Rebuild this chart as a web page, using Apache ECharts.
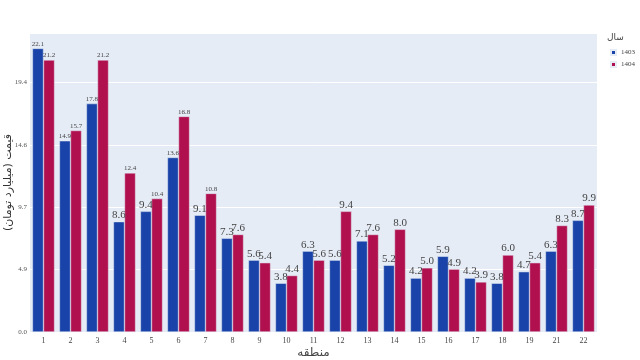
<!DOCTYPE html>
<html><head><meta charset="utf-8">
<script src="https://cdn.jsdelivr.net/npm/echarts@6/dist/echarts.min.js"></script>
<style>html,body{margin:0;padding:0;background:#fff}#c{width:640px;height:360px}</style>
</head><body><div id="c"></div>
<script>
const categories = ['1','2','3','4','5','6','7','8','9','10','11','12','13','14','15','16','17','18','19','21','22'];
const values1403 = [22.1,14.9,17.8,8.6,9.4,13.6,9.1,7.3,5.6,3.8,6.3,5.6,7.1,5.2,4.2,5.9,4.2,3.8,4.7,6.3,8.7];
const values1404 = [21.2,15.7,21.2,12.4,10.4,16.8,10.8,7.6,5.4,4.4,5.6,9.4,7.6,8.0,5.0,4.9,3.9,6.0,5.4,8.3,9.9];
const seriesNames = ['1403','1404'];
const yTickStep = 4.86;
const legendTitle = 'سال';
const xTitle = 'منطقه';
const yTitle = 'قیمت (میلیارد تومان)';

const serif = "'Liberation Serif','DejaVu Serif',serif";
const arabic = "'DejaVu Sans','Noto Sans',sans-serif";
function labelCfg(){
  return {
    show:true, position:'top', distance:1,
    formatter: p => (p.value >= 10 ? '{s|' : '{b|') + p.value.toFixed(1) + '}',
    rich:{
      s:{fontSize:7, fontFamily:serif, color:'#444'},
      b:{fontSize:11, fontFamily:serif, color:'#444'}
    }
  };
}
const chart = echarts.init(document.getElementById('c'));
chart.setOption({
  animation:false,
  backgroundColor:'#fff',
  grid:{left:30, right:43, top:33, bottom:28, show:true, backgroundColor:'#E5ECF6', borderWidth:0, outerBoundsMode:'none', containLabel:false},
  legend:{
    data:seriesNames, orient:'vertical', left:605, top:44, itemWidth:5, itemHeight:5, itemGap:5,
    icon:'rect', textStyle:{fontSize:7, color:'#444', fontFamily:serif}
  },
  graphic:[{type:'text', left:607, top:33, style:{text:legendTitle, fontSize:9, fill:'#444', fontFamily:arabic}}],
  xAxis:{
    type:'category', data:categories,
    axisLine:{show:false}, axisTick:{show:false},
    axisLabel:{fontSize:8, color:'#444', fontFamily:serif, margin:5},
    name:xTitle, nameLocation:'middle', nameGap:15, nameMoveOverlap:false,
    nameTextStyle:{fontSize:12, color:'#444', fontFamily:arabic}
  },
  yAxis:{
    type:'value', min:0, max:23.3, interval:yTickStep,
    axisLabel:{fontSize:7, color:'#555', fontFamily:serif, margin:3, showMaxLabel:false,
      formatter: v => v.toFixed(1)},
    splitLine:{lineStyle:{color:'#fff', width:1}},
    axisLine:{show:false}, axisTick:{show:false},
    name:yTitle, nameLocation:'middle', nameGap:16, nameRotate:90, nameMoveOverlap:false,
    nameTextStyle:{fontSize:11, color:'#333', fontFamily:arabic}
  },
  series:[
    {name:seriesNames[0], type:'bar', data:values1403, barGap:'0%', barCategoryGap:'18%',
     itemStyle:{color:'#1a43a9', borderColor:'#E5ECF6', borderWidth:0.5}, label:labelCfg()},
    {name:seriesNames[1], type:'bar', data:values1404,
     itemStyle:{color:'#b0104e', borderColor:'#E5ECF6', borderWidth:0.5}, label:labelCfg()}
  ]
});
</script></body></html>
